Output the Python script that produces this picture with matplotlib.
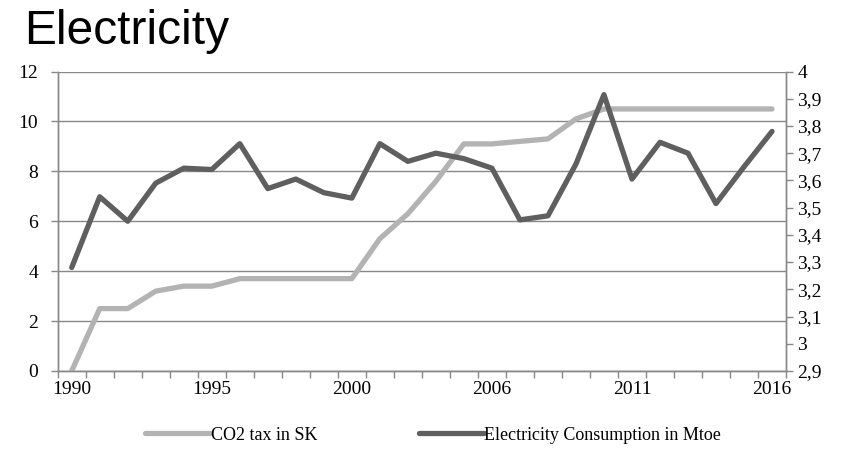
import matplotlib
matplotlib.use("Agg")
import matplotlib.pyplot as plt
from matplotlib.ticker import FixedLocator, FuncFormatter

# yearly series (one category per year, 2005 not reported)
years = [1990, 1991, 1992, 1993, 1994, 1995, 1996, 1997, 1998, 1999, 2000,
         2001, 2002, 2003, 2004,
         2006, 2007, 2008, 2009, 2010, 2011, 2012, 2013, 2014, 2015, 2016]
co2_tax = [0.0, 2.5, 2.5, 3.2, 3.4, 3.4, 3.7, 3.7, 3.7, 3.7, 3.7,
           5.3, 6.3, 7.6, 9.1, 9.1, 9.2, 9.3, 10.1, 10.5,
           10.5, 10.5, 10.5, 10.5, 10.5, 10.5]
elec_cons = [3.28, 3.54, 3.45, 3.59, 3.645, 3.64, 3.735, 3.57, 3.605, 3.555, 3.535,
             3.735, 3.67, 3.70, 3.68, 3.645, 3.455, 3.47, 3.66, 3.915,
             3.605, 3.74, 3.70, 3.515, 3.65, 3.78]
label_every = 5

serif = "Liberation Serif"
grid_col = "#888888"
light = "#b3b3b3"
dark = "#5f5f5f"

fig = plt.figure(figsize=(8.46, 4.57), dpi=100)
ax = fig.add_axes([0.0682, 0.1882, 0.8609, 0.6553])
ax2 = ax.twinx()

x = list(range(len(years)))
l1, = ax.plot(x, co2_tax, color=light, lw=3.8, solid_capstyle="round",
              solid_joinstyle="round", zorder=3)
l2, = ax2.plot(x, elec_cons, color=dark, lw=3.8, solid_capstyle="round",
               solid_joinstyle="round", zorder=3)

ax.set_xlim(-0.5, len(years) - 0.5)
ax.set_ylim(0, 12)
ax2.set_ylim(2.9, 4.0)

# category axis: marks between categories, labels every 5th year
ax.xaxis.set_major_locator(FixedLocator(x[::label_every]))
ax.set_xticklabels([str(y) for y in years[::label_every]])
ax.xaxis.set_minor_locator(FixedLocator([i - 0.5 for i in range(len(years) + 1)]))
ax.tick_params(axis="x", which="major", length=0, pad=7)
ax.tick_params(axis="x", which="minor", length=5, width=1, color=grid_col)

ax.set_yticks(range(0, 13, 2))
ax.tick_params(axis="y", length=5, width=1, color=grid_col, pad=9)
ax2.set_yticks([2.9 + 0.1 * i for i in range(12)])
ax2.yaxis.set_major_formatter(
    FuncFormatter(lambda v, p: ("%.1f" % v).rstrip("0").rstrip(".").replace(".", ",")))
ax2.tick_params(axis="y", length=5, width=1, color=grid_col, pad=3)

for a in (ax, ax2):
    for lab in a.get_xticklabels() + a.get_yticklabels():
        lab.set_fontfamily(serif)
        lab.set_fontsize(14)
    a.spines["top"].set_visible(False)
    for s in ("left", "right", "bottom"):
        a.spines[s].set_color(grid_col)
        a.spines[s].set_linewidth(1)

ax.yaxis.grid(True, color=grid_col, lw=1)
ax.set_axisbelow(True)

fig.text(0.029, 0.903, "Electricity", fontsize=34.5, family="Liberation Sans",
         ha="left", va="baseline")

fig.legend([l1, l2], ["CO2 tax in SK", "Electricity Consumption in Mtoe"],
           loc="center", bbox_to_anchor=(0.512, 0.048), ncol=2, frameon=False,
           handlelength=3.6, handletextpad=0.05, columnspacing=5.6,
           prop={"family": serif, "size": 13})

fig.savefig("out.png", dpi=100)
